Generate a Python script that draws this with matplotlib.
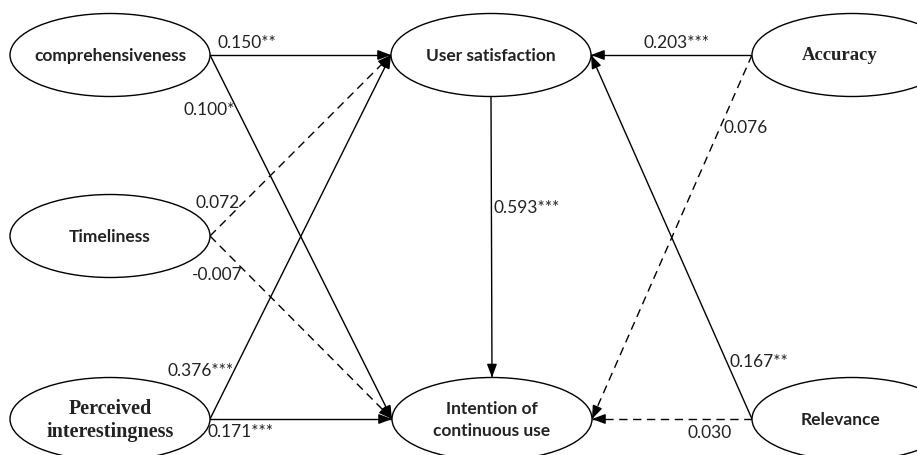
import numpy as np
import matplotlib
matplotlib.use("Agg")
import matplotlib.pyplot as plt
from matplotlib.patches import Ellipse

# constructs of the structural model
NODES = ["comprehensiveness", "Timeliness", "Perceived\ninterestingness",
         "User satisfaction", "Intention of\ncontinuous use",
         "Accuracy", "Relevance"]

# path model: source -> target, coefficient, significance stars
SOURCES = ["comprehensiveness", "comprehensiveness", "Timeliness", "Timeliness",
           "Perceived\ninterestingness", "Perceived\ninterestingness",
           "User satisfaction", "Accuracy", "Accuracy", "Relevance", "Relevance"]
TARGETS = ["User satisfaction", "Intention of\ncontinuous use",
           "User satisfaction", "Intention of\ncontinuous use",
           "User satisfaction", "Intention of\ncontinuous use",
           "Intention of\ncontinuous use", "User satisfaction",
           "Intention of\ncontinuous use", "User satisfaction",
           "Intention of\ncontinuous use"]
COEFS = [0.150, 0.100, 0.072, -0.007, 0.376, 0.171, 0.593, 0.203, 0.076, 0.167, 0.030]
STARS = ["**", "*", "", "", "***", "***", "***", "***", "", "**", ""]

# layout (pixel coordinates, y down)
NODE_POS = {
    "comprehensiveness": (110, 55),
    "Timeliness": (110, 236),
    "Perceived\ninterestingness": (110, 419),
    "User satisfaction": (491, 55),
    "Intention of\ncontinuous use": (492, 419),
    "Accuracy": (852, 55),
    "Relevance": (852, 419),
}
TEXT_X = {"Accuracy": 840, "Relevance": 840}
SERIF_SIZE = {"Perceived\ninterestingness": 14.5, "Accuracy": 13.5}
LABEL_POS = [(218, 43), (183, 110), (195, 203), (192, 275), (168, 371), (208, 432),
             (494, 208), (643, 43), (723, 128), (730, 362), (688, 433)]
NODE_W, NODE_H = 200, 83


def anchor(name, toward):
    x, y = NODE_POS[name]
    tx, ty = NODE_POS[toward]
    if abs(tx - x) < 5:
        return (x, y + NODE_H / 2 if ty > y else y - NODE_H / 2)
    return (x + NODE_W / 2 if tx > x else x - NODE_W / 2, y)


def draw_path(ax, start, end, dashed):
    ls = (0, (6, 4)) if dashed else "-"
    ax.plot([start[0], end[0]], [start[1], end[1]], color="black", lw=1.0, linestyle=ls)
    d = np.array(end) - np.array(start)
    d = d / np.hypot(*d)
    back = np.array(end) - d * 12
    ax.annotate("", xy=end, xytext=tuple(back),
                arrowprops=dict(arrowstyle="-|>,head_length=0.8,head_width=0.3",
                                color="black", lw=1.0, mutation_scale=10,
                                shrinkA=0, shrinkB=0))


fig = plt.figure(figsize=(9.17, 4.55), dpi=100)
ax = fig.add_axes([0, 0, 1, 1])
ax.set_xlim(0, 917)
ax.set_ylim(455, 0)
ax.axis("off")

for src, tgt, coef, star, (lx, ly) in zip(SOURCES, TARGETS, COEFS, STARS, LABEL_POS):
    draw_path(ax, anchor(src, tgt), anchor(tgt, src), dashed=(star == ""))
    ax.text(lx, ly, f"{coef:.3f}{star}", fontsize=12.5, family="Lato",
            ha="left", va="center", color="#222222")

for name in NODES:
    x, y = NODE_POS[name]
    ax.add_patch(Ellipse((x, y), NODE_W, NODE_H, facecolor="white",
                         edgecolor="black", lw=1.0, zorder=3))
    if name in SERIF_SIZE:
        fam, size, sp = "Liberation Serif", SERIF_SIZE[name], 1.2
    else:
        fam, size, sp = "Lato", 12.5, 1.45
    ax.text(TEXT_X.get(name, x), y + 1, name, fontsize=size, fontweight="bold", family=fam,
            ha="center", va="center", zorder=4, linespacing=sp, color="#222222")

fig.savefig("out.png", dpi=100)
